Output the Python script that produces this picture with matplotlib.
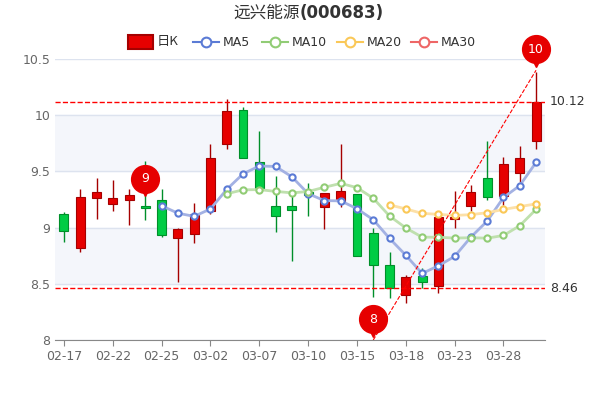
import numpy as np
import pandas as pd
import matplotlib.pyplot as plt
from matplotlib.transforms import offset_copy

dates = ['02-17', '02-18', '02-21', '02-22', '02-23', '02-24', '02-25', '02-28', '03-01', '03-02',
         '03-03', '03-04', '03-07', '03-08', '03-09', '03-10', '03-11', '03-14', '03-15', '03-16',
         '03-17', '03-18', '03-21', '03-22', '03-23', '03-24', '03-25', '03-28', '03-29', '03-30']
opens = [9.12, 8.82, 9.26, 9.21, 9.25, 9.19, 9.25, 8.91, 8.94, 9.15,
         9.74, 10.05, 9.58, 9.19, 9.19, 9.32, 9.18, 9.24, 9.30, 8.95,
         8.67, 8.40, 8.57, 8.48, 9.08, 9.19, 9.44, 9.28, 9.49, 9.77]
closes = [8.97, 9.27, 9.32, 9.26, 9.29, 9.17, 8.93, 8.99, 9.12, 9.62,
          10.04, 9.62, 9.34, 9.10, 9.16, 9.29, 9.31, 9.33, 8.75, 8.67,
          8.46, 8.56, 8.52, 9.09, 9.09, 9.32, 9.27, 9.57, 9.62, 10.12]
highs = [9.14, 9.34, 9.44, 9.42, 9.34, 9.59, 9.34, 9.00, 9.22, 9.74,
         10.14, 10.07, 9.86, 9.46, 9.29, 9.40, 9.31, 9.74, 9.30, 9.00,
         8.78, 8.58, 8.64, 9.09, 9.33, 9.38, 9.77, 9.63, 9.73, 10.38]
lows = [8.87, 8.78, 9.08, 9.15, 9.02, 9.07, 8.92, 8.52, 8.86, 9.12,
        9.70, 9.62, 9.34, 8.96, 8.70, 9.10, 8.99, 9.18, 8.75, 8.38,
        8.37, 8.33, 8.46, 8.42, 9.00, 9.15, 9.25, 9.20, 9.41, 9.70]
tick_idx = [0, 3, 6, 9, 12, 15, 18, 21, 24, 27]
yticks = [8, 8.5, 9, 9.5, 10, 10.5]
max_close, min_close = 10.12, 8.46
pins = [(5, 9.25, '9'), (19, 8.0, '8'), (29, 10.40, '10')]
trend = ([19, 29], [8.0, 10.40])

RED, GREEN = '#e60000', '#00cc44'
# window, first shown index, marker colour, line colour
ma_styles = [(5, 6, '#5b7bd5', '#a3b1e3'), (10, 10, '#91cc75', '#bfe0ae'), (20, 20, '#fac858', '#fce0a8')]

fig = plt.figure(figsize=(6, 4), dpi=100)
ax = fig.add_axes([55/600, 60/400, 490/600, 281/400])
x = np.arange(len(dates))

# background bands
for lo in [8.5, 9.5]:
    ax.axhspan(lo, lo + 0.5, color='#f4f6fb', zorder=0)
for y in yticks:
    ax.axhline(y, color='#dde3ef', lw=1, zorder=0)

for i in x:
    up = closes[i] >= opens[i]
    c = RED if up else GREEN
    ec = '#a50000' if up else '#008f2a'
    ax.vlines(i, lows[i], highs[i], color=ec, lw=1, zorder=2)
    b = min(opens[i], closes[i])
    h = max(abs(closes[i] - opens[i]), 0.01)
    ax.bar(i, h, bottom=b, width=0.55, color=c, edgecolor=ec, lw=0.8, zorder=3)

cs = pd.Series(closes)
for n, start, mc, lc in ma_styles:
    ma = cs.rolling(n).mean().to_numpy()
    ma[:start] = np.nan
    ax.plot(x, ma, color=lc, lw=2, zorder=4)
    ax.plot(x, ma, 'o', ms=4.5, mfc='white', mec=mc, mew=1.5, zorder=5)

ax.axhline(max_close, color='red', ls='--', lw=1, zorder=6)
ax.axhline(min_close, color='red', ls='--', lw=1, zorder=6)
ax.plot(trend[0], trend[1], color='red', ls='--', lw=0.8, zorder=6)
ax.text(1.01, max_close, '%.2f' % max_close, transform=ax.get_yaxis_transform(), va='center', fontsize=9, color='#333')
ax.text(1.01, min_close, '%.2f' % min_close, transform=ax.get_yaxis_transform(), va='center', fontsize=9, color='#333')

for px, py, lab in pins:
    tr = offset_copy(ax.transData, fig=fig, x=0, y=8, units='points')
    ax.plot(px, py, marker='v', ms=11, color='#e60000', transform=tr, zorder=8, clip_on=False)
    tr2 = offset_copy(ax.transData, fig=fig, x=0, y=15, units='points')
    ax.plot(px, py, marker='o', ms=20, color='#e60000', transform=tr2, zorder=8, clip_on=False)
    ax.text(px, py, lab, color='white', fontsize=9, ha='center', va='center', transform=tr2, zorder=9, clip_on=False)

ax.set_xlim(-0.55, len(dates) - 0.45)
ax.set_ylim(8, 10.5)
ax.set_yticks(yticks)
ax.set_yticklabels([('%g' % v) for v in yticks])
ax.set_xticks(tick_idx)
ax.set_xticklabels([dates[i] for i in tick_idx])
ax.tick_params(axis='y', length=0, labelsize=9, colors='#666')
ax.tick_params(axis='x', labelsize=9, colors='#666', length=4, color='#888')
for s in ['top', 'right', 'left']:
    ax.spines[s].set_visible(False)
ax.spines['bottom'].set_color('#888')

fig.text(0.5, 0.968, '远兴能源', fontfamily='Noto Sans CJK SC', fontsize=12, color='#333', ha='right', va='center')
fig.text(0.5, 0.968, '(000683)', fontsize=12, fontweight='bold', color='#333', ha='left', va='center')

# legend
ly = 1 - 42/400
fig.patches.append(plt.Rectangle((128/600, ly - 0.017), 25/600, 0.034, transform=fig.transFigure,
                                 facecolor=RED, edgecolor='#a50000', lw=1.5))
fig.text(157/600, ly, '日K', fontfamily='Noto Sans CJK SC', fontsize=9.5, color='#333', va='center')
leg = [('MA5', 193, '#5b7bd5'), ('MA10', 262, '#91cc75'), ('MA20', 337, '#fac858'), ('MA30', 411, '#ee6666')]
for name, lx, col in leg:
    fig.lines.append(plt.Line2D([lx/600, (lx + 26)/600], [ly, ly], transform=fig.transFigure, color=col, lw=1.5))
    fig.lines.append(plt.Line2D([(lx + 13)/600], [ly], transform=fig.transFigure, marker='o', ms=7,
                                mfc='white', mec=col, mew=1.5))
    fig.text((lx + 30)/600, ly, name, fontsize=9, color='#333', va='center')

fig.savefig('out.png')
